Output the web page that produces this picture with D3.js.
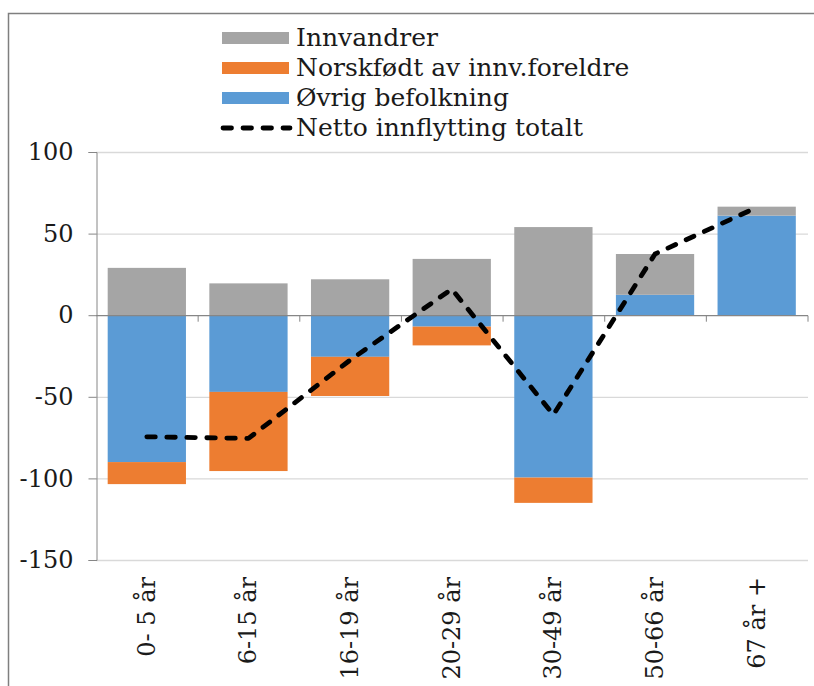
<!DOCTYPE html>
<html>
<head>
<meta charset="utf-8">
<script src="https://cdn.jsdelivr.net/npm/d3@7"></script>
<style>
  body { margin: 0; background: #fff; }
  svg { display: block; font-family: "DejaVu Serif", serif; }
</style>
</head>
<body>
<svg id="chart" width="814" height="686"></svg>
<script>
// Données
const categories = ["0- 5 år", "6-15 år", "16-19 år", "20-29 år", "30-49 år", "50-66 år", "67 år +"];
const innvandrer = [29, 19.5, 22, 34.5, 54, 25, 5.5];
const norskfodt = [-13.5, -48.5, -24, -11.5, -15.5, 0, 0];
const ovrig = [-90, -47, -25.5, -7, -99.5, 12.5, 61];
const netto = [-74.5, -75.5, -27.5, 16, -61, 37.5, 66];
const yTicks = [100, 50, 0, -50, -100, -150];

const series = [
  { key: "innvandrer", label: "Innvandrer", color: "#a5a5a5" },
  { key: "norskfodt", label: "Norskfødt av innv.foreldre", color: "#ed7d31" },
  { key: "ovrig", label: "Øvrig befolkning", color: "#5b9bd5" }
];

const rows = categories.map((c, i) => ({
  cat: c, innvandrer: innvandrer[i], norskfodt: norskfodt[i], ovrig: ovrig[i]
}));

const svg = d3.select("#chart");

// cadre
svg.append("path")
   .attr("d", "M8.5,686 L8.5,13.5 L814,13.5")
   .attr("fill", "none")
   .attr("stroke", "#7f7f7f")
   .attr("stroke-width", 1.5);

const x = d3.scaleBand().domain(categories).range([96, 807.5])
            .paddingInner(0.23).paddingOuter(0.115);
const y = d3.scaleLinear().domain([-150, 100]).range([560, 152]);

// grille
svg.append("g").selectAll("line")
   .data(yTicks.filter(d => d !== 0))
   .enter().append("line")
   .attr("x1", 96).attr("x2", 808)
   .attr("y1", d => y(d) + 0.5).attr("y2", d => y(d) + 0.5)
   .attr("stroke", "#d9d9d9").attr("stroke-width", 1.3);

// axe Y (trait d'union comme signe moins)
const yAxis = svg.append("g")
   .attr("transform", "translate(96.5,0)")
   .call(d3.axisLeft(y).tickValues(yTicks).tickSize(8).tickPadding(15).tickFormat(d => String(d)));
yAxis.select(".domain").attr("stroke", "#868686");
yAxis.selectAll(".tick line").attr("stroke", "#868686");
yAxis.selectAll("text")
     .style("font-family", "DejaVu Serif").style("font-size", "24px").attr("fill", "#1a1a1a");

// barres empilées
const stacked = d3.stack()
   .keys(["ovrig", "norskfodt", "innvandrer"])
   .offset(d3.stackOffsetDiverging)(rows);
const colorOf = k => series.find(s => s.key === k).color;

svg.append("g").selectAll("g")
   .data(stacked)
   .enter().append("g")
   .attr("fill", d => colorOf(d.key))
   .selectAll("rect")
   .data(d => d)
   .enter().append("rect")
   .attr("x", d => x(d.data.cat))
   .attr("width", x.bandwidth())
   .attr("y", d => y(d[1]))
   .attr("height", d => Math.max(0, y(d[0]) - y(d[1])));

// axe X (ligne du zéro)
const xAxisG = svg.append("g").attr("transform", `translate(0,${y(0) + 0.5})`);
xAxisG.append("line").attr("x1", 96).attr("x2", 808)
      .attr("stroke", "#868686").attr("stroke-width", 1.3);
xAxisG.selectAll(".tk")
      .data(categories)
      .enter().append("line")
      .attr("x1", d => x(d) + x.bandwidth() + x.step() * 0.115 + 0.5)
      .attr("x2", d => x(d) + x.bandwidth() + x.step() * 0.115 + 0.5)
      .attr("y1", 0).attr("y2", 6)
      .attr("stroke", "#868686");

// étiquettes X pivotées
svg.append("g").selectAll("text")
   .data(categories)
   .enter().append("text")
   .attr("transform", d => `translate(${x(d) + x.bandwidth() / 2 + 8},577) rotate(-90)`)
   .attr("text-anchor", "end")
   .style("font-size", "24px")
   .attr("fill", "#1a1a1a")
   .text(d => d);

// ligne netto
const line = d3.line()
   .x((d, i) => x(categories[i]) + x.bandwidth() / 2)
   .y(d => y(d));
svg.append("path")
   .datum(netto)
   .attr("d", line)
   .attr("fill", "none")
   .attr("stroke", "#000")
   .attr("stroke-width", 4.8)
   .attr("stroke-linecap", "round")
   .attr("stroke-linejoin", "round")
   .attr("stroke-dasharray", "8.5,11.5");

// légende
const legend = svg.append("g");
series.forEach((s, i) => {
  const cy = 38 + i * 30;
  legend.append("rect").attr("x", 222).attr("y", cy - 6).attr("width", 67).attr("height", 12).attr("fill", s.color);
  legend.append("text").attr("x", 296).attr("y", cy + 8)
        .style("font-size", "25px").attr("fill", "#1a1a1a").text(s.label);
});
legend.append("line")
      .attr("x1", 223).attr("x2", 290).attr("y1", 128).attr("y2", 128)
      .attr("stroke", "#000").attr("stroke-width", 4.8)
      .attr("stroke-linecap", "round").attr("stroke-dasharray", "8.5,11.5");
legend.append("text").attr("x", 296).attr("y", 136)
      .style("font-size", "25px").attr("fill", "#1a1a1a").text("Netto innflytting totalt");
</script>
</body>
</html>
